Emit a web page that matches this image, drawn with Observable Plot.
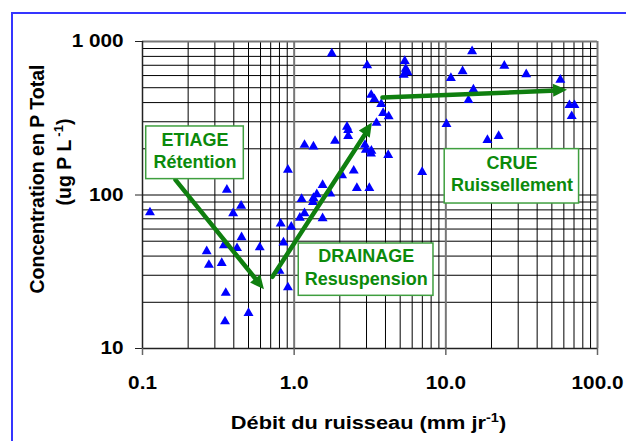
<!DOCTYPE html>
<html><head><meta charset="utf-8">
<script src="https://cdn.jsdelivr.net/npm/d3@7"></script>
<script src="https://cdn.jsdelivr.net/npm/@observablehq/plot@0.6"></script>
<style>
body{margin:0;background:#fff;}
#wrap{position:relative;width:626px;height:441px;overflow:hidden;background:#fff;}
#wrap svg{position:absolute;left:0;top:0;}
#frame{position:absolute;left:11px;top:12px;width:700px;height:500px;border-left:2px solid #3535ff;border-top:2px solid #3535ff;pointer-events:none;}
</style></head><body><div id="wrap"><div id="frame"></div></div>
<script>
// Débit du ruisseau (mm/jr)
const discharge = [0.112,0.265,0.274,0.333,0.354,0.350,0.50,0.36,0.447,0.396,0.344,0.42,0.45,0.593,0.815,0.85,0.80,0.91,0.957,0.91,
  1.09,1.17,1.12,1.34,1.33,1.41,1.54,1.54,1.73,1.17,1.34,1.77,1.86,2.07,2.47,2.59,3.13,2.23,2.27,2.27,
  2.93,2.97,3.23,3.21,4.17,3.03,5.36,5.44,5.6,5.28,3.22,3.38,3.75,3.86,4.2,3.49,6.98,10.1,14.9,12.9,
  10.8,24.3,33.9,56.9,15.2,14.1,65.3,70.5,67.6,18.8,22.3];
// Concentration en P total (ug P/L)
const concentration = [77,43,35,36,23,15,17,108,85,76,47,45,53,45.5,65,49,32,25,62,146,
  71,76,94,95.5,90,101,70.5,116,102,212,207,834,225,134,144,111,111,278,265,242,
  212,197,194,186,182,698,745,664,630,607,449,421,391,342,325,295,141,290,863,639,
  578,695,611,563,486,415,385,385,326,228,242];

const xTicks = [0.1, 1, 10, 100];
const xTickLabels = ["0.1", "1.0", "10.0", "100.0"];
const yTicks = [10, 100, 1000];
const yTickLabels = ["10", "100", "1 000"];
const xMinorGrid = [0.2,0.3,0.4,0.5,0.6,0.7,0.8,0.9,2,3,4,5,6,7,8,9,20,30,40,50,60,70,80,90];
const xMajorGrid = [1, 10, 100];
const yMinorGrid = [20,30,40,50,60,70,80,90,100,200,300,400,500,600,700,800,900];
const yMajorGrid = [1000];

// Annotations (data coordinates)
const arrowX1 = [0.165, 0.719, 3.82];
const arrowY1 = [125.6, 29.3, 431];
const arrowX2 = [0.637, 3.28, 63.4];
const arrowY2 = [24.1, 295, 482];
const boxLabels = ["ETIAGE\nRétention", "DRAINAGE\nResuspension", "CRUE\nRuissellement"];
const boxX1 = [0.1058, 1.072, 9.83];
const boxX2 = [0.4655, 8.29, 75.6];
const boxY1 = [126.9, 22.04, 88.0];
const boxY2 = [279.5, 48.3, 199];
const labelX = [0.222, 2.984, 27.3];
const labelY = [197.6, 34.3, 139.8];

const points = discharge.map((d, i) => ({q: d, c: concentration[i]}));
const idx3 = [0, 1, 2];
const green = "#0f7f0f";

const chart = Plot.plot({
  width: 626, height: 441,
  marginLeft: 142, marginRight: 29, marginTop: 41, marginBottom: 93,
  x: {type: "log", domain: [0.1, 100], label: null},
  y: {type: "log", domain: [10, 1000], label: null},
  style: {fontFamily: "'Liberation Sans', Arial, sans-serif", fontWeight: "bold", fontSize: "18.5px", color: "#000", background: "transparent", overflow: "visible"},
  marks: [
    Plot.ruleX(xMinorGrid, {stroke: "#000", strokeWidth: 1}),
    Plot.ruleY(yMinorGrid, {stroke: "#000", strokeWidth: 1}),
    Plot.ruleX(xMajorGrid, {stroke: "#777", strokeWidth: 2}),
    Plot.ruleY(yMajorGrid, {stroke: "#777", strokeWidth: 2}),
    Plot.ruleX([0.1], {stroke: "#222", strokeWidth: 1.5}),
    Plot.ruleY([10], {stroke: "#222", strokeWidth: 1.5}),
    Plot.axisY(yTicks, {tickFormat: d => yTickLabels[yTicks.indexOf(d)], tickSize: 7, tickPadding: 12, label: null, stroke: "#222"}),
    Plot.axisX(xTicks, {tickFormat: d => xTickLabels[xTicks.indexOf(d)], tickSize: 7, tickPadding: 20, label: null, stroke: "#666", strokeWidth: 1.5}),
    Plot.dot(points, {x: "q", y: "c", symbol: "triangle", r: 3.7, fill: "#0000ff", stroke: "none"}),
    Plot.arrow(idx3, {x1: i => arrowX1[i], y1: i => arrowY1[i], x2: i => arrowX2[i], y2: i => arrowY2[i],
      stroke: green, strokeWidth: 4.5, headLength: 0, insetEnd: 10}),
    Plot.rect(idx3, {x1: i => boxX1[i], x2: i => boxX2[i], y1: i => boxY1[i], y2: i => boxY2[i],
      fill: "#fff", stroke: "#3f9f3f", strokeWidth: 1.5}),
    Plot.text(idx3, {x: i => labelX[i], y: i => labelY[i], text: i => boxLabels[i],
      fill: "#0b8a0b", fontSize: 18, fontWeight: "bold", lineHeight: 1.24})
  ]
});

const wrap = document.getElementById("wrap");
wrap.insertBefore(chart, document.getElementById("frame"));

// stretch tick labels slightly to match reference
chart.querySelectorAll('g[aria-label$="tick label"] text').forEach(t => {
  const len = t.getComputedTextLength();
  if (len > 0) { t.setAttribute("textLength", len * 1.12); t.setAttribute("lengthAdjust", "spacingAndGlyphs"); }
});

function scaleFn(name) {
  const s = chart.scale(name);
  if (s && typeof s.apply === "function") return v => s.apply(v);
  return d3.scaleLog(s.domain, s.range);
}
const fx = scaleFn("x"), fy = scaleFn("y");
const svg = d3.select(chart);

// filled arrow heads
const heads = svg.append("g").attr("fill", green);
idx3.forEach(i => {
  const x1 = fx(arrowX1[i]), y1 = fy(arrowY1[i]), x2 = fx(arrowX2[i]), y2 = fy(arrowY2[i]);
  const dx = x2 - x1, dy = y2 - y1, L = Math.hypot(dx, dy);
  const ux = dx / L, uy = dy / L, nx = -uy, ny = ux;
  const hl = 14, hw = 6.5;
  const bx = x2 - ux * hl, by = y2 - uy * hl;
  heads.append("path").attr("d", `M${x2},${y2}L${bx + nx * hw},${by + ny * hw}L${bx - nx * hw},${by - ny * hw}Z`);
});

// axis titles
const font = "'Liberation Sans', Arial, sans-serif";
const xt = svg.append("g").attr("transform", "translate(368.5,429.3) scale(1.21,1)")
  .append("text").attr("text-anchor", "middle").attr("font-family", font).attr("font-weight", "bold").attr("font-size", 18).attr("fill", "#000");
xt.append("tspan").text("Débit du ruisseau (mm jr");
xt.append("tspan").attr("font-size", 12).attr("dy", -7).text("-1");
xt.append("tspan").attr("dy", 7).text(")");

svg.append("g").attr("transform", "translate(43.5,179) rotate(-90)")
  .append("text").attr("text-anchor", "middle").attr("font-family", font).attr("font-weight", "bold").attr("font-size", 19.5).attr("fill", "#000")
  .text("Concentration en P Total");
const yt = svg.append("g").attr("transform", "translate(71,162) rotate(-90)")
  .append("text").attr("text-anchor", "middle").attr("font-family", font).attr("font-weight", "bold").attr("font-size", 19.5).attr("fill", "#000");
yt.append("tspan").text("(ug P L");
yt.append("tspan").attr("font-size", 13).attr("dx", 3).attr("dy", -8).text("-1");
yt.append("tspan").attr("dy", 8).text(")");
</script>
</body></html>
